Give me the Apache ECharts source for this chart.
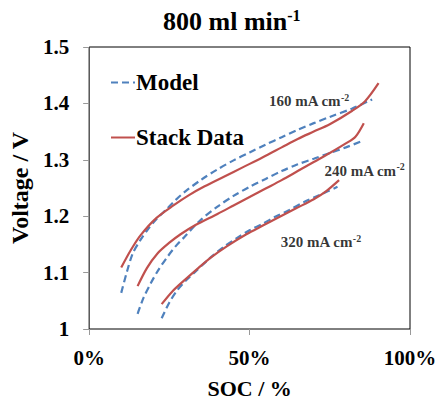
<!DOCTYPE html>
<html>
<head>
<meta charset="utf-8">
<script src="https://cdn.jsdelivr.net/npm/echarts@6/dist/echarts.min.js"></script>
<style>
  html, body { margin: 0; padding: 0; background: #fff; }
  #chart { width: 443px; height: 405px; }
</style>
</head>
<body>
<div id="chart"></div>
<script>
// SOC (%) / Voltage (V) pairs
var model160 = [[10,1.064],[11.8,1.102],[13.6,1.134],[16,1.158],[18.2,1.176],[21,1.195],[24.4,1.214],[27,1.229],[30,1.244],[35,1.265],[40,1.283],[45,1.299],[50,1.313],[55,1.327],[60,1.340],[65,1.353],[70,1.365],[75,1.376],[82,1.391],[88.2,1.407]];
var stack160 = [[10,1.109],[13,1.140],[16,1.166],[21,1.197],[26.5,1.220],[31,1.237],[36,1.253],[42,1.270],[48,1.287],[54,1.304],[60,1.322],[65,1.337],[70,1.350],[75,1.363],[82,1.387],[86,1.404],[90.2,1.436]];
var model240 = [[15.1,1.027],[17,1.056],[19.2,1.081],[21.5,1.104],[24.4,1.128],[27,1.147],[29.5,1.162],[34.5,1.192],[40,1.217],[45,1.236],[50,1.252],[55,1.266],[60,1.280],[65,1.292],[70,1.302],[75,1.312],[80,1.322],[85,1.333]];
var stack240 = [[15.1,1.076],[18,1.108],[21.3,1.134],[25,1.153],[28.5,1.168],[33,1.184],[40,1.204],[45,1.219],[50,1.234],[55,1.249],[60,1.264],[65,1.280],[70,1.296],[75,1.312],[80,1.329],[83,1.341],[85.6,1.365]];
var model320 = [[22.6,1.019],[25,1.047],[27.5,1.069],[30,1.085],[32.6,1.099],[37.7,1.126],[42,1.146],[46,1.161],[50,1.175],[54.2,1.187],[58,1.199],[62.4,1.211],[67,1.225],[72,1.238],[77.4,1.252]];
var stack320 = [[22.6,1.044],[26,1.067],[30,1.088],[34,1.108],[38,1.127],[43,1.147],[49,1.168],[54,1.183],[59.4,1.199],[64.5,1.214],[70,1.230],[74,1.245],[77.9,1.264]];
var curveLabels = [[68.5,1.404,'160'],[85.8,1.281,'240'],[72.2,1.154,'320']];
var xTicks = [0, 50, 100];

var blue = '#4F81BD';
var red = '#C0504D';
var font = 'Liberation Serif';

var chart = echarts.init(document.getElementById('chart'), null, { renderer: 'svg' });

function modelLine(data) {
  return {
    name: 'Model', type: 'line', data: data, smooth: 0.3,
    showSymbol: false, symbol: 'none',
    lineStyle: { color: blue, width: 2.2, type: [7, 4] }, itemStyle: { color: blue }
  };
}
function stackLine(data) {
  return {
    name: 'Stack Data', type: 'line', data: data, smooth: 0.3,
    showSymbol: false, symbol: 'none',
    lineStyle: { color: red, width: 2.2 }, itemStyle: { color: red }
  };
}

var series = [
  modelLine(model160), stackLine(stack160),
  modelLine(model240), stackLine(stack240),
  modelLine(model320), stackLine(stack320),
  {
    name: 'labels', type: 'scatter', data: curveLabels, symbolSize: 0, silent: true,
    label: {
      show: true, position: 'inside',
      formatter: function(p) { return '{t|' + p.data[2] + ' mA cm}{s|-2}'; },
      rich: {
        t: { fontFamily: font, fontWeight: 'bold', fontSize: 15, color: '#000' },
        s: { fontFamily: font, fontWeight: 'bold', fontSize: 10, color: '#000', padding: [0, 0, 8, 0] }
      }
    }
  }
];

chart.setOption({
  animation: false,
  title: {
    text: '{m|800 ml min}{s|-1}',
    left: 158, top: 2,
    textStyle: {
      rich: {
        m: { fontFamily: font, fontWeight: 'bold', fontSize: 26, color: '#000' },
        s: { fontFamily: font, fontWeight: 'bold', fontSize: 16, color: '#000', padding: [0, 0, 12, 0] }
      }
    }
  },
  legend: {
    data: ['Model', 'Stack Data'],
    orient: 'vertical',
    left: 105, top: 66,
    itemWidth: 24, itemHeight: 14, itemGap: 32,
    itemStyle: { opacity: 0 },
    textStyle: { fontFamily: font, fontWeight: 'bold', fontSize: 23, color: '#000', padding: [0, 0, 0, -4] }
  },
  grid: { left: 86, right: 33, top: 47, bottom: 76, show: true, borderColor: '#000', borderWidth: 1 },
  xAxis: {
    type: 'value', min: 0, max: 100, interval: 50,
    name: 'SOC / %', nameLocation: 'middle', nameGap: 48,
    nameTextStyle: { fontFamily: font, fontWeight: 'bold', fontSize: 22, color: '#000' },
    axisLine: { show: false },
    axisTick: { show: true, length: 6, lineStyle: { color: '#999' } },
    splitLine: { show: false },
    axisLabel: {
      margin: 18, fontFamily: font, fontWeight: 'bold', fontSize: 21, color: '#000',
      customValues: xTicks, formatter: '{value}%'
    }
  },
  yAxis: {
    type: 'value', min: 1, max: 1.5, interval: 0.1,
    name: 'Voltage / V', nameLocation: 'middle', nameGap: 53, nameRotate: 90,
    nameTextStyle: { fontFamily: font, fontWeight: 'bold', fontSize: 24, color: '#000' },
    axisLine: { show: false },
    axisTick: { show: true, length: 6, lineStyle: { color: '#999' } },
    splitLine: { show: false },
    axisLabel: { margin: 20, fontFamily: font, fontWeight: 'bold', fontSize: 21, color: '#000' }
  },
  series: series
});
</script>
</body>
</html>
